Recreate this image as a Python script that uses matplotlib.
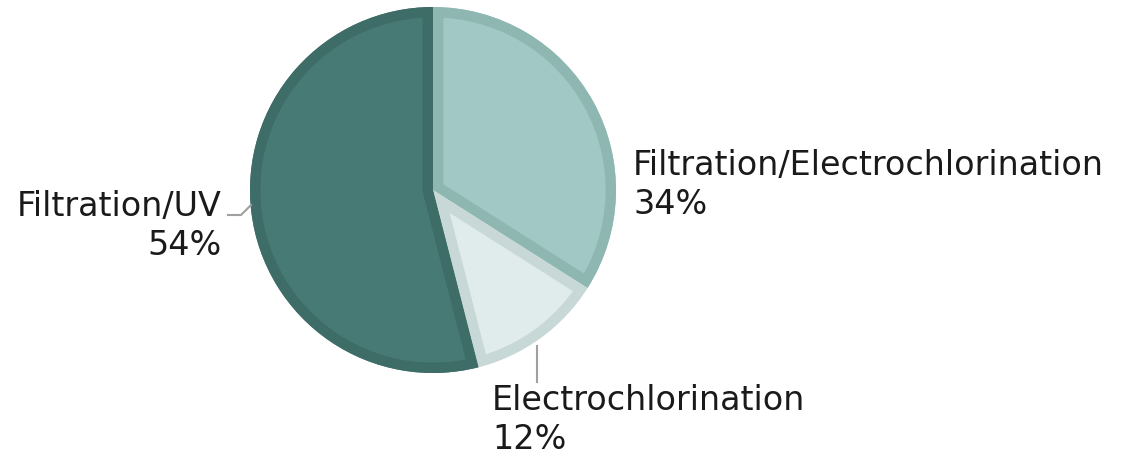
from matplotlib import pyplot as plt
from matplotlib.patches import Wedge

# slice data, clockwise from 12 o'clock
labels = ['Filtration/Electrochlorination', 'Electrochlorination', 'Filtration/UV']
shares = [34, 12, 54]
fills = ['#a1c8c4', '#e0ecec', '#487a75']
edges = ['#8fb7b2', '#c8d8d7', '#3e6c67']

W, H = 1127, 460
fig = plt.figure(figsize=(W / 100, H / 100), dpi=100)
ax = fig.add_axes([0, 0, 1, 1])

cx, cy, r = 433, H - 191, 183
wedges, _ = ax.pie(shares, colors=fills, startangle=90, counterclock=False,
                   center=(cx, cy), radius=r,
                   wedgeprops=dict(edgecolor='none'))

ax.set_xlim(0, W)
ax.set_ylim(0, H)
ax.set_aspect('auto')
ax.axis('off')

# inner stroke: a wedge outline twice as thick, clipped to the slice
for w, ec in zip(wedges, edges):
    b = Wedge(w.center, w.r, w.theta1, w.theta2, facecolor='none',
              edgecolor=ec, linewidth=15, zorder=w.get_zorder() + 0.1)
    ax.add_patch(b)
    b.set_clip_path(w)

font = dict(fontsize=24, color='#1a1a1a', family='DejaVu Sans')

# Filtration/Electrochlorination
ax.text(633, H - 185, labels[0] + '\n' + '%d%%' % shares[0], ha='left', va='center',
        linespacing=1.25, **font)
# Electrochlorination
ax.text(492, H - 420, labels[1] + '\n' + '%d%%' % shares[1], ha='left', va='center',
        linespacing=1.25, **font)
ax.plot([537, 537], [H - 347, H - 383], color='#a0a0a0', lw=1.5)
# Filtration/UV
ax.text(222, H - 226, labels[2] + '\n' + '%d%%' % shares[2], ha='right', va='center',
        multialignment='right', linespacing=1.25, **font)
ax.plot([228, 241, 251], [H - 216, H - 216, H - 206], color='#a0a0a0', lw=1.5)

fig.savefig('out.png', dpi=100)
